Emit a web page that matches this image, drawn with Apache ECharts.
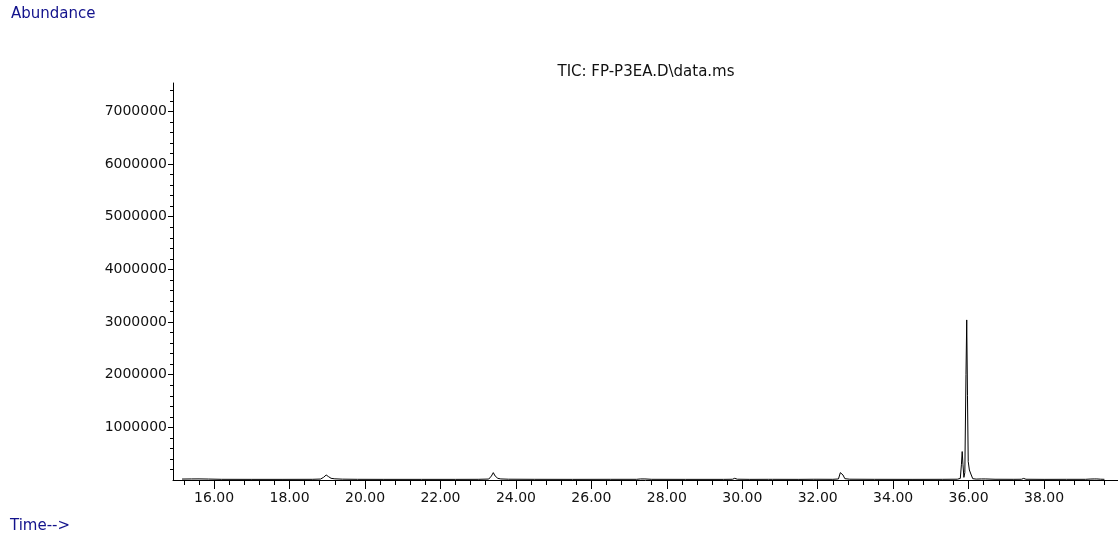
<!DOCTYPE html>
<html><head><meta charset="utf-8">
<script src="https://cdn.jsdelivr.net/npm/echarts@6/dist/echarts.min.js"></script>
<style>html,body{margin:0;padding:0;background:#fff}#c{width:1118px;height:539px}</style>
</head><body><div id="c"></div>
<script>
const titleText = 'TIC: FP-P3EA.D\\data.ms';
const yAxisName = 'Abundance';
const xAxisName = 'Time-->';

const retentionTimes = [
  15.15, 15.4, 15.6, 15.85, 16.2, 17.0, 17.8, 18.6, 18.82, 18.9, 18.97, 19.03, 19.1, 19.2, 19.4, 19.8,
  20.5, 21.5, 22.4, 23.0, 23.28, 23.35, 23.40, 23.45, 23.52, 23.6, 23.8, 24.5, 25.5, 26.5, 27.2, 27.3,
  27.35, 27.42, 27.6, 28.5, 29.5, 29.74, 29.80, 29.87, 30.2, 30.7, 30.75, 30.8, 31.5, 31.88, 31.93, 31.98,
  32.4, 32.55, 32.6, 32.63, 32.67, 32.72, 32.85, 33.5, 34.5, 35.3, 35.7, 35.78, 35.81, 35.83, 35.85, 35.875,
  35.9, 35.93, 35.95, 35.97, 35.99, 36.02, 36.04, 36.07, 36.11, 36.2, 36.34, 36.39, 36.44, 36.7, 37.2, 37.4,
  37.46, 37.52, 38.0, 38.6, 39.1, 39.22, 39.27, 39.33, 39.4, 39.45, 39.5, 39.6
];
const abundances = [
  18000, 20000, 21000, 18000, 13000, 12000, 12000, 13000, 18000, 50000, 95000, 65000, 32000, 22000, 16000, 13000,
  12000, 12000, 12000, 13000, 18000, 75000, 140000, 75000, 32000, 20000, 15000, 13000, 12000, 13000, 13000, 20000,
  34000, 20000, 13000, 12000, 12000, 14000, 32000, 15000, 12000, 13000, 24000, 13000, 12000, 14000, 24000, 14000,
  13000, 20000, 140000, 170000, 95000, 25000, 15000, 13000, 12000, 13000, 15000, 30000, 300000, 540000, 300000, 50000,
  140000, 2000000, 3040000, 1600000, 350000, 190000, 175000, 95000, 25000, 17000, 20000, 45000, 20000, 14000, 13000, 14000,
  30000, 14000, 12000, 13000, 13000, 18000, 32000, 20000, 20000, 32000, 15000, 13000
];

const xMajorTicks = [16, 18, 20, 22, 24, 26, 28, 30, 32, 34, 36, 38];
const yMajorTicks = [1000000, 2000000, 3000000, 4000000, 5000000, 6000000, 7000000];

const X_MIN = 14.91, X_MAX = 39.96, Y_MAX = 7540000;
const xMinorTicks = [];
for (let k = 0; ; k++) { const v = Math.round((15.2 + k * 0.4) * 10) / 10; if (v > X_MAX) break; xMinorTicks.push(v); }
const yMinorTicks = [];
for (let v = 200000; v <= 7400000; v += 200000) yMinorTicks.push(v);

const seriesData = retentionTimes.map((t, i) => [t, abundances[i]]);

const FONT = 'DejaVu Sans';
const chart = echarts.init(document.getElementById('c'), null, {renderer: 'canvas'});
chart.setOption({
  animation: false,
  backgroundColor: '#ffffff',
  grid: {left: 173, right: 0, top: 83, bottom: 59, containLabel: false},
  xAxis: [
    {
      type: 'value', min: X_MIN, max: X_MAX, position: 'bottom',
      axisLine: {show: true, onZero: false, lineStyle: {color: '#000', width: 1}},
      axisTick: {show: true, customValues: xMajorTicks, length: 9, lineStyle: {color: '#000'}},
      axisLabel: {show: true, customValues: xMajorTicks, margin: 11, color: '#111', fontFamily: FONT, fontSize: 14,
        formatter: v => Number(v).toFixed(2)},
      splitLine: {show: false}
    },
    {
      type: 'value', min: X_MIN, max: X_MAX, position: 'bottom', gridIndex: 0,
      axisLine: {show: false, onZero: false},
      axisTick: {show: true, customValues: xMinorTicks, length: 5, lineStyle: {color: '#000'}},
      axisLabel: {show: false},
      splitLine: {show: false}
    }
  ],
  yAxis: [
    {
      type: 'value', min: 0, max: Y_MAX, position: 'left',
      axisLine: {show: true, onZero: false, lineStyle: {color: '#000', width: 1}},
      axisTick: {show: true, customValues: yMajorTicks, length: 5, lineStyle: {color: '#000'}},
      axisLabel: {show: true, customValues: yMajorTicks, margin: 6, color: '#111', fontFamily: FONT, fontSize: 14,
        formatter: v => String(Math.round(v))},
      splitLine: {show: false}
    },
    {
      type: 'value', min: 0, max: Y_MAX, position: 'left', gridIndex: 0,
      axisLine: {show: false, onZero: false},
      axisTick: {show: true, customValues: yMinorTicks, length: 3, lineStyle: {color: '#000'}},
      axisLabel: {show: false},
      splitLine: {show: false}
    }
  ],
  series: [{
    type: 'line', xAxisIndex: 0, yAxisIndex: 0, data: seriesData,
    showSymbol: false, symbol: 'none', smooth: false, sampling: null,
    lineStyle: {color: '#000', width: 1}, z: 5
  }],
  graphic: [
    {type: 'text', left: 11, top: 7, style: {text: yAxisName, fill: '#12128c', font: '15px "DejaVu Sans"'}},
    {type: 'text', left: 10, top: 519, style: {text: xAxisName, fill: '#12128c', font: '15px "DejaVu Sans"'}},
    {type: 'text', x: 646, y: 72, style: {text: titleText, fill: '#111', font: '15px "DejaVu Sans"', textAlign: 'center', textVerticalAlign: 'middle'}}
  ]
});
</script>
</body></html>
